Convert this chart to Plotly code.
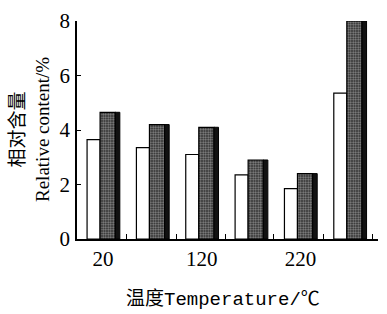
import plotly.graph_objects as go

temperatures = [20, 70, 120, 170, 220, 270]
white_values = [3.65, 3.35, 3.1, 2.35, 1.85, 5.35]
dark_values = [4.65, 4.2, 4.1, 2.9, 2.4, 8.0]
x_tick_vals = [20, 120, 220]
x_tick_text = ["20", "120", "220"]
y_tick_vals = [0, 2, 4, 6, 8]
minor_tick_vals = [44, 94, 144, 193, 243, 293]

SERIF = "Liberation Serif, Noto Sans CJK SC"
MONO = "Liberation Mono, Noto Sans CJK SC"

fig = go.Figure()
fig.add_trace(go.Bar(
    x=temperatures, y=white_values, offset=-16.2, width=13.2,
    marker=dict(color="white", line=dict(color="black", width=1.2)),
    showlegend=False,
))
fig.add_trace(go.Bar(
    x=temperatures, y=dark_values, offset=-3.0, width=15.4,
    marker=dict(color="#555555", line=dict(color="black", width=1.2),
                pattern=dict(shape=".", bgcolor="#222222", fgcolor="#8c8c8c",
                             size=2.5, solidity=0.5, fillmode="replace")),
    showlegend=False,
))
fig.add_trace(go.Bar(
    x=temperatures, y=dark_values, offset=12.4, width=4.6,
    marker=dict(color="#111111", line=dict(color="black", width=1)),
    showlegend=False,
))

fig.update_layout(
    width=387, height=314,
    margin=dict(l=77, r=9, t=15, b=75),
    paper_bgcolor="white", plot_bgcolor="white",
    barmode="overlay",
    font=dict(family=SERIF, size=20, color="black"),
    xaxis=dict(
        range=[-6.4, 298.6], showgrid=False, zeroline=False,
        showline=True, linecolor="black", linewidth=1.5,
        tickmode="array", tickvals=x_tick_vals, ticktext=x_tick_text,
        ticks="", ticklabelstandoff=0,
        tickfont=dict(family=SERIF, size=21),
        minor=dict(tickmode="array", tickvals=minor_tick_vals, ticks="inside",
                   ticklen=5, tickwidth=1.2, tickcolor="black", showgrid=False),
    ),
    yaxis=dict(
        range=[0, 8], showgrid=False, zeroline=False,
        showline=True, linecolor="black", linewidth=1.5,
        tickmode="array", tickvals=y_tick_vals,
        ticks="inside", ticklen=4, tickwidth=1.2, tickcolor="black",
        ticklabelstandoff=1,
        tickfont=dict(family=SERIF, size=21),
    ),
    annotations=[
        dict(text="相对含量<br>Relative content/%", xref="paper", yref="paper",
             x=0, y=0.5, xanchor="center", yanchor="middle", xshift=-47,
             textangle=-90, showarrow=False,
             font=dict(family=SERIF, size=19, color="black")),
        dict(text="温度Temperature/℃", xref="paper", yref="paper",
             x=0.485, y=0, xanchor="center", yanchor="middle", yshift=-60,
             showarrow=False, font=dict(family=MONO, size=19, color="black")),
    ],
)

fig.write_html("out.html", config={"displayModeBar": False},
               post_script="document.body.style.margin='0';")
